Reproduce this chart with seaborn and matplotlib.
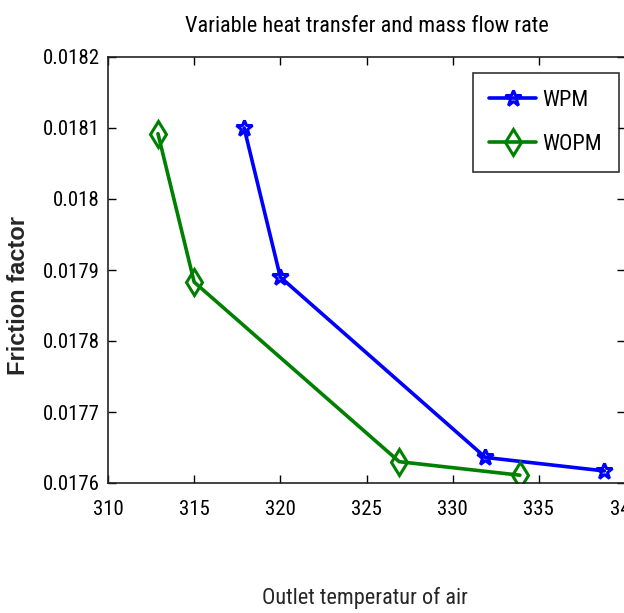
import matplotlib
matplotlib.use("Agg")
import matplotlib.pyplot as plt
import seaborn as sns
import pandas as pd
from matplotlib.ticker import FormatStrFormatter

# Data
wpm_temp = [317.9, 320.0, 331.9, 338.8]
wpm_friction = [0.018100, 0.017890, 0.017636, 0.017617]
wopm_temp = [312.9, 315.0, 326.9, 333.9]
wopm_friction = [0.018092, 0.017883, 0.017630, 0.017611]
series_names = ["WPM", "WOPM"]
x_ticks = [310, 315, 320, 325, 330, 335, 340]
y_ticks = [0.0176, 0.0177, 0.0178, 0.0179, 0.0180, 0.0181, 0.0182]

sns.set_style("ticks")
plt.rcParams["font.family"] = ["Roboto Condensed", "DejaVu Sans"]
plt.rcParams["text.color"] = "black"

fig = plt.figure(figsize=(6.24, 6.13), dpi=100)
ax = fig.add_axes([108 / 624, 1 - 483 / 613, 517 / 624, 426 / 613])

df_wpm = pd.DataFrame({"temp": wpm_temp, "f": wpm_friction})
df_wopm = pd.DataFrame({"temp": wopm_temp, "f": wopm_friction})

sns.lineplot(data=df_wpm, x="temp", y="f", sort=False, ax=ax, color="#0000FF",
             lw=2.6, marker="*", markersize=12, markerfacecolor="none",
             markeredgecolor="#0000FF", markeredgewidth=2.2, label=series_names[0])
sns.lineplot(data=df_wopm, x="temp", y="f", sort=False, ax=ax, color="#008000",
             lw=2.6, marker="d", markersize=13, markerfacecolor="none",
             markeredgecolor="#008000", markeredgewidth=2.2, label=series_names[1])

ax.set_xlim(310, 340)
ax.set_ylim(0.0176, 0.0182)
ax.set_xticks(x_ticks)
ax.set_yticks(y_ticks)
ax.yaxis.set_major_formatter(FormatStrFormatter("%g"))
ax.tick_params(direction="in", length=6, width=1, top=True, right=True,
               labelsize=15, colors="black")
ax.tick_params(axis="y", pad=6)
ax.tick_params(axis="x", pad=12)
for s in ax.spines.values():
    s.set_visible(True)
    s.set_color("#222222")
    s.set_linewidth(1.2)

ax.set_title("Variable heat transfer and mass flow rate", fontsize=16,
             pad=0, y=1.0587)

ax.set_xlabel("Outlet temperatur of air", fontsize=16)
ax.xaxis.set_label_coords(0.497, -0.244)
ax.set_ylabel("Friction factor", fontsize=17, fontweight="bold",
              family=["Liberation Sans", "DejaVu Sans"])
ax.yaxis.set_label_coords(-0.151, 0.441)

leg = ax.legend(loc="upper right", bbox_to_anchor=(0.988, 0.962), fontsize=16,
                frameon=True, fancybox=False, edgecolor="black",
                borderaxespad=0, handlelength=2.1, borderpad=0.75,
                labelspacing=1.05, handletextpad=0.3)
leg.get_frame().set_linewidth(1.2)

fig.savefig("out.png", dpi=100, facecolor="white")
